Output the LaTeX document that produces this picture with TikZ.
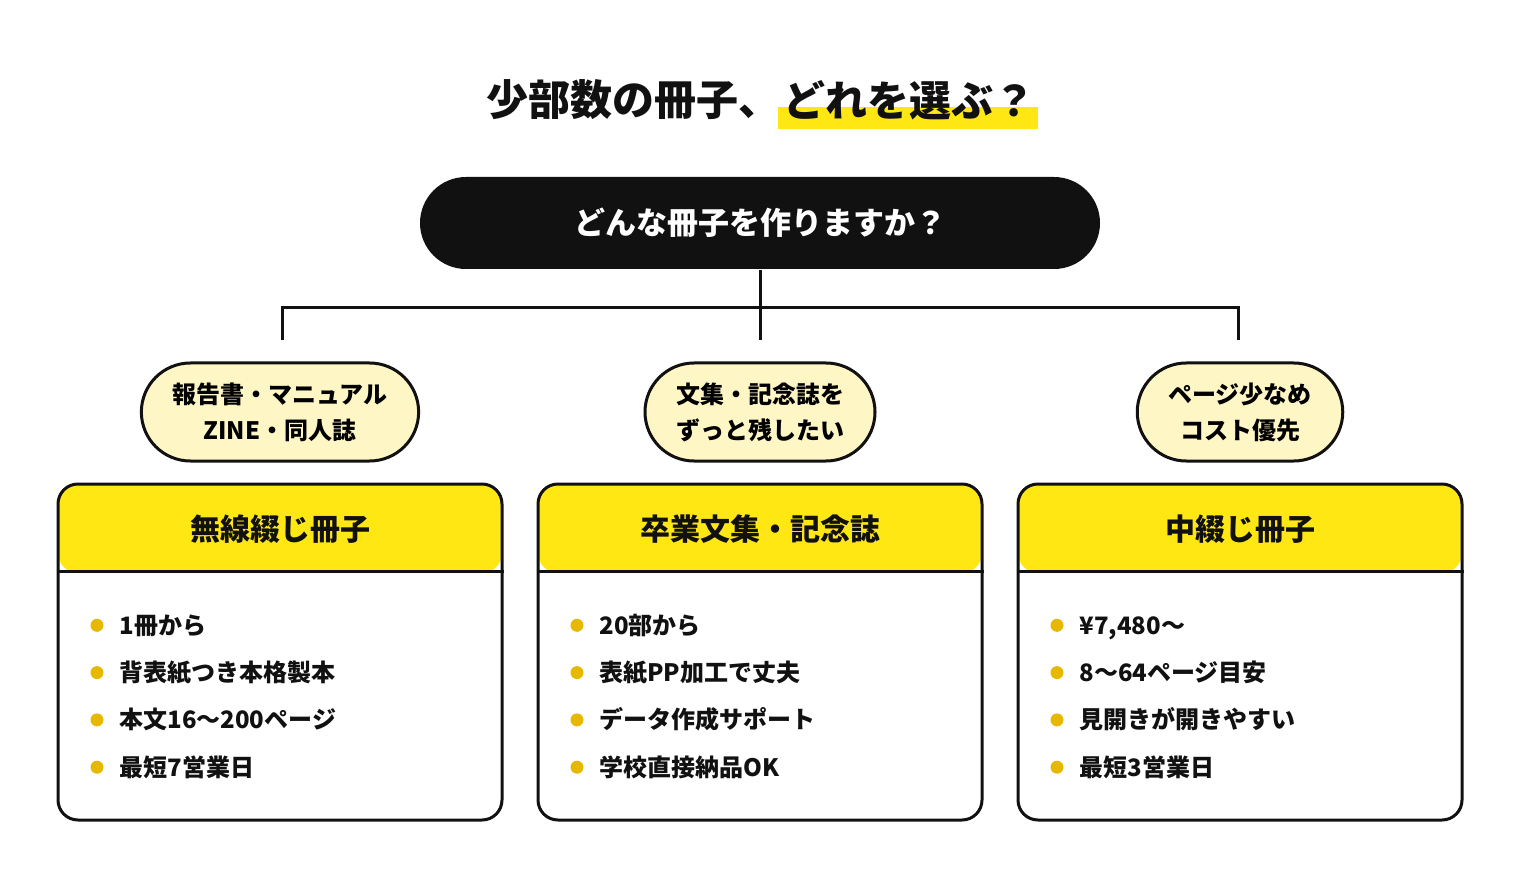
\documentclass[tikz,border=0pt]{standalone}
\usepackage{fontspec}
\setmainfont{Noto Sans CJK JP}[BoldFont={Noto Sans CJK JP Black}]
\usetikzlibrary{positioning}
\definecolor{ink}{HTML}{111111}
\definecolor{brandyellow}{HTML}{FFE714}
\definecolor{paleyellow}{HTML}{FFF6C6}
\definecolor{dotyellow}{HTML}{E6B800}

\begin{document}
\begin{tikzpicture}[x=1pt,y=-1pt,line width=3pt,
	question/.style={fill=ink,text=white,rounded corners=46pt,minimum width=680pt,minimum height=92pt,font=\bfseries\fontsize{31}{36}\selectfont},
	choice/.style={draw=ink,fill=paleyellow,rounded corners=49pt,minimum height=98pt,inner xsep=31pt,align=center,font=\bfseries\fontsize{24}{36}\selectfont},
	card/.style={draw=ink,fill=white,rounded corners=20pt,minimum width=444pt,minimum height=336pt,
		path picture={\fill[brandyellow] (path picture bounding box.north west) rectangle ([yshift=-89pt]path picture bounding box.north east);}},
	cardtitle/.style={font=\bfseries\fontsize{30}{36}\selectfont,text=ink},
	item/.style={anchor=west,inner sep=0pt,text height=22pt,text depth=4pt,font=\bfseries\fontsize{24}{30}\selectfont,text=ink}]
	\useasboundingbox (0,0) rectangle (1520,882);
	% Draw the title with its marker
	\fill[brandyellow] (778,107) rectangle (1038,129);
	\node[anchor=east,inner sep=0pt,text=ink,font=\bfseries\fontsize{42}{48}\selectfont] (title) at (782,100) {少部数の冊子、};
	\node[anchor=west,inner sep=0pt,text=ink,font=\bfseries\fontsize{42}{48}\selectfont] (titlemark) at (782,100) {どれを選ぶ？};
	% Draw the question and the branches
	\node[question] (question) at (760,223) {どんな冊子を作りますか？};
	\coordinate (topL) at (282,308);
	\coordinate (topR) at (1238,308);
	\coordinate (endL) at (282,340);
	\coordinate (endC) at (760,340);
	\coordinate (endR) at (1238,340);
	\draw[ink] (question.south) -- (endC);
	\draw[ink] (endL) -- (topL) -- (topR) -- (endR);
	% Draw the three answers
	\node[choice] (choiceL) at (280,412) {報告書・マニュアル\\ZINE・同人誌};
	\node[choice] (choiceC) at (760,412) {文集・記念誌を\\ずっと残したい};
	\node[choice] (choiceR) at (1240,412) {ページ少なめ\\コスト優先};
	% Draw the cards
	\node[card] (cardL) at (280,652) {};
	\node[card] (cardC) at (760,652) {};
	\node[card] (cardR) at (1240,652) {};
	\draw[ink] ([yshift=-89pt]cardL.north west) -- ([yshift=-89pt]cardL.north east);
	\draw[ink] ([yshift=-89pt]cardC.north west) -- ([yshift=-89pt]cardC.north east);
	\draw[ink] ([yshift=-89pt]cardR.north west) -- ([yshift=-89pt]cardR.north east);
	\node[cardtitle] (headL) at (280,529) {無線綴じ冊子};
	\node[cardtitle] (headC) at (760,529) {卒業文集・記念誌};
	\node[cardtitle] (headR) at (1240,529) {中綴じ冊子};
	% Bullet lists, one loop per card
	\foreach \txt [count=\i, evaluate=\i as \dy using 578+47.3*\i] in {1冊から, 背表紙つき本格製本, 本文16〜200ページ, 最短7営業日} {
		\fill[dotyellow] (97,\dy) circle (6.5pt);
		\node[item] (itemL-\i) at (118,\dy) {\txt};
	}
	\foreach \txt [count=\i, evaluate=\i as \dy using 578+47.3*\i] in {20部から, 表紙PP加工で丈夫, データ作成サポート, 学校直接納品OK} {
		\fill[dotyellow] (577,\dy) circle (6.5pt);
		\node[item] (itemC-\i) at (598,\dy) {\txt};
	}
	\foreach \txt [count=\i, evaluate=\i as \dy using 578+47.3*\i] in {{¥7,480〜}, 8〜64ページ目安, 見開きが開きやすい, 最短3営業日} {
		\fill[dotyellow] (1057,\dy) circle (6.5pt);
		\node[item] (itemR-\i) at (1078,\dy) {\txt};
	}
\end{tikzpicture}
\end{document}
